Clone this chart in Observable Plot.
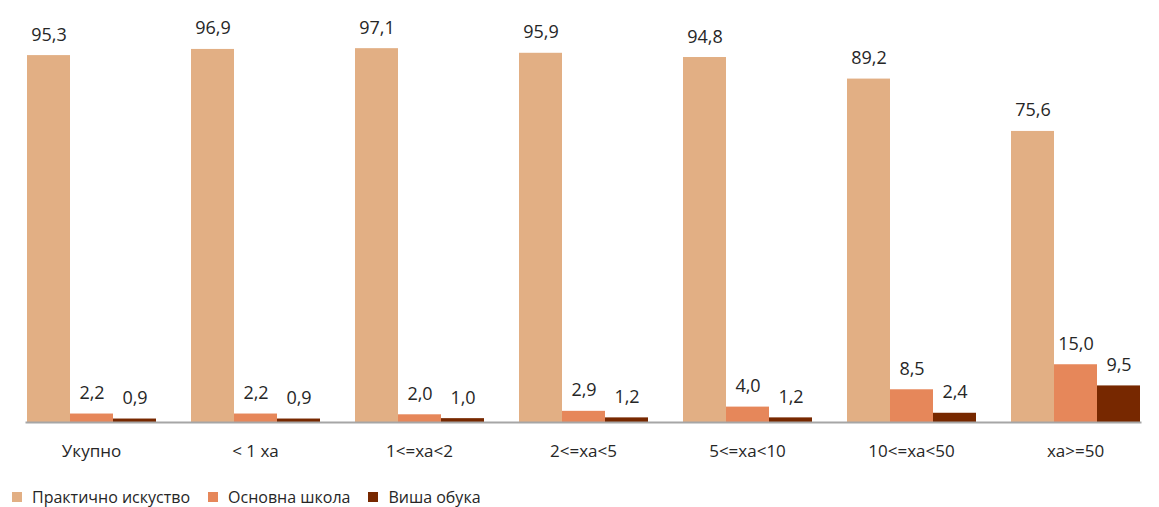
<!DOCTYPE html>
<html>
<head>
<meta charset="utf-8">
<script src="https://cdn.jsdelivr.net/npm/d3@7"></script>
<script src="https://cdn.jsdelivr.net/npm/@observablehq/plot@0.6"></script>
<style>
  html, body { margin: 0; padding: 0; background: #fff; }
  body { width: 1159px; height: 507px; overflow: hidden; font-family: "Open Sans", sans-serif; }
  #legend { position: absolute; left: 12px; top: 486px; display: flex; align-items: center; font-size: 16px; color: #262626; white-space: nowrap; }
  #legend .item { display: flex; align-items: center; }
  #legend .sw { width: 10px; height: 10px; display: inline-block; margin-right: 10px; }
</style>
</head>
<body>
<div id="chart"></div>
<div id="legend"></div>
<script>
const categories = ["Укупно", "< 1 ха", "1<=ха<2", "2<=ха<5", "5<=ха<10", "10<=ха<50", "ха>=50"];
const series = ["Практично искуство", "Основна школа", "Виша обука"];
const colors = ["#E2AF84", "#E6875A", "#772800"];
const practical = [95.3, 96.9, 97.1, 95.9, 94.8, 89.2, 75.6];
const basic = [2.2, 2.2, 2.0, 2.9, 4.0, 8.5, 15.0];
const higher = [0.9, 0.9, 1.0, 1.2, 1.2, 2.4, 9.5];

const values = [practical, basic, higher];
const data = [];
categories.forEach((c, i) => {
  series.forEach((s, j) => data.push({category: c, series: s, value: values[j][i]}));
});

const fmt = v => v.toFixed(1).replace(".", ",");

const chart = Plot.plot({
  width: 1159,
  height: 480,
  marginLeft: 8,
  marginRight: 0,
  marginTop: 37,
  marginBottom: 58,
  style: {fontFamily: "'Open Sans', sans-serif", background: "#fff"},
  fx: {domain: categories, paddingInner: 0.205, paddingOuter: 0.1, axis: null},
  x: {domain: series, padding: 0, axis: null},
  y: {domain: [0, 100], axis: null},
  color: {domain: series, range: colors},
  marks: [
    Plot.barY(data, {fx: "category", x: "series", y: "value", fill: "series"}),
    Plot.text(data, {fx: "category", x: "series", y: "value", text: d => fmt(d.value),
      lineAnchor: "bottom", dy: -15, fontSize: 18, fill: "#262626",
      style: {letterSpacing: "1px"}}),
    Plot.frame({facet: "super", anchor: "bottom", stroke: "#A6A6A6", strokeWidth: 2}),
    Plot.text(categories, {fx: d => d, text: d => d, frameAnchor: "bottom", lineAnchor: "middle",
      dy: 29, fontSize: 17, fill: "#262626", style: {letterSpacing: "1px"}})
  ]
});
document.getElementById("chart").append(chart);

const legend = document.getElementById("legend");
series.forEach((s, j) => {
  const item = document.createElement("span");
  item.className = "item";
  item.style.marginLeft = (j === 0 ? 0 : 18) + "px";
  const sw = document.createElement("span");
  sw.className = "sw";
  sw.style.background = colors[j];
  const t = document.createElement("span");
  t.textContent = s;
  item.append(sw, t);
  legend.append(item);
});
</script>
</body>
</html>
